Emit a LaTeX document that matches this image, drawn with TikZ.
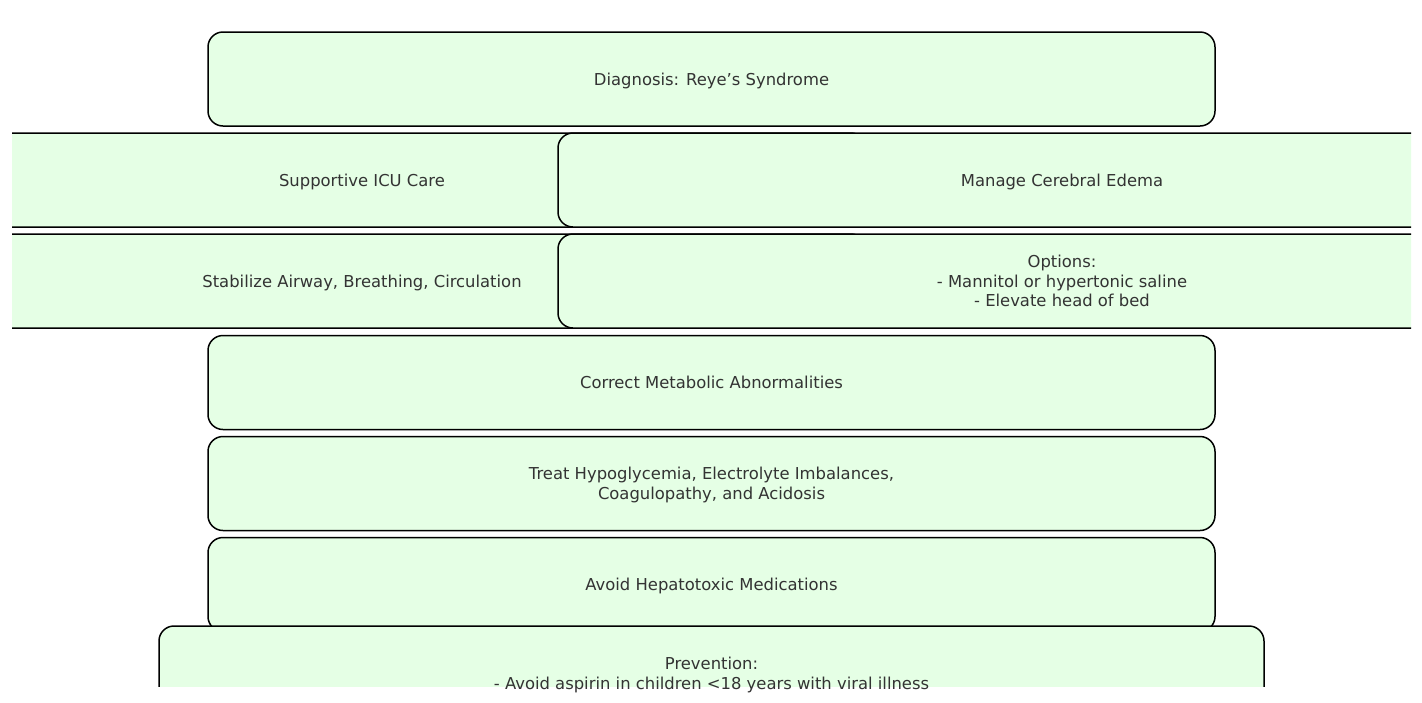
\documentclass[tikz,border=0pt]{standalone}
\usepackage{fontspec}
\setmainfont{DejaVu Sans}
\definecolor{boxfill}{RGB}{229,255,229}
\definecolor{txt}{RGB}{51,51,51}
\begin{document}
\begin{tikzpicture}[x=1pt,y=-1pt,
  stepbox/.style={draw=black,line width=1.5pt,fill=boxfill,rounded corners=15pt,
    inner sep=0pt,minimum height=94pt},
  wide/.style={minimum width=1007pt},
  half/.style={minimum width=1008pt},
  label/.style={inner sep=0pt,text=txt,align=center,text depth=0pt,
    font=\fontsize{16.4}{19.7}\selectfont}]
\useasboundingbox[fill=white] (0,0) rectangle (1422,702);
\begin{scope}
\clip (12,12) rectangle (1411,686);
\node[stepbox,wide] (diag) at (711.5,79) {};
\node[stepbox,half] (icu) at (362,180) {};
\node[stepbox,half] (cer) at (1062,180) {};
\node[stepbox,half] (stab) at (362,281) {};
\node[stepbox,half] (opt) at (1062,281) {};
\node[stepbox,wide] (meta) at (711.5,382.5) {};
\node[stepbox,wide] (treat) at (711.5,483.5) {};
\node[stepbox,wide] (avoid) at (711.5,584.5) {};
\node[stepbox,minimum width=1105pt] (prev) at (711.5,673) {};
\end{scope}
\node[label] (tdiag) at (diag.center) {Diagnosis: Reye’s Syndrome};
\node[label] (ticu) at (icu.center) {Supportive ICU Care};
\node[label] (tcer) at (cer.center) {Manage Cerebral Edema};
\node[label] (tstab) at (stab.center) {Stabilize Airway, Breathing, Circulation};
\node[label] (topt) at (opt.center) {Options:\\- Mannitol or hypertonic saline\\- Elevate head of bed};
\node[label] (tmeta) at (meta.center) {Correct Metabolic Abnormalities};
\node[label] (ttreat) at (treat.center) {Treat Hypoglycemia, Electrolyte Imbalances,\\Coagulopathy, and Acidosis};
\node[label] (tavoid) at (avoid.center) {Avoid Hepatotoxic Medications};
\node[label] (tprev) at (prev.center) {Prevention:\\- Avoid aspirin in children <18 years with viral illness};
\end{tikzpicture}
\end{document}
